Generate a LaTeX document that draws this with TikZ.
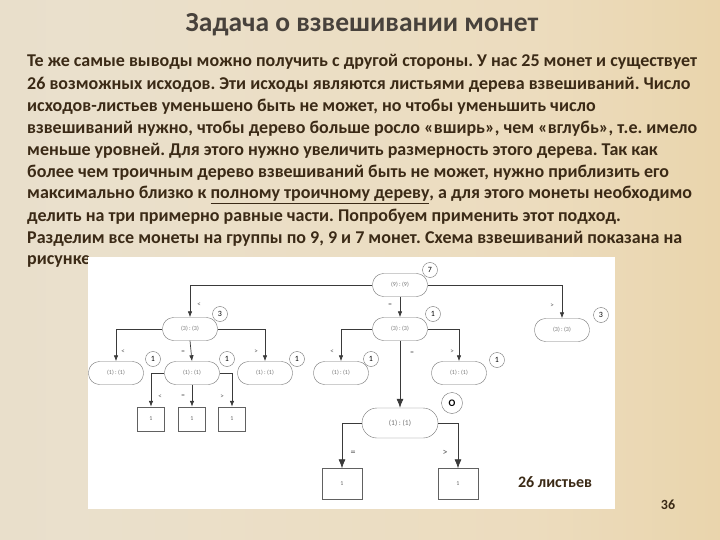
\documentclass[tikz,border=0pt]{standalone}
\usepackage{fontspec}
\setmainfont{Carlito}
\usetikzlibrary{arrows.meta}
\definecolor{ink}{HTML}{3B2A16}
\definecolor{titleink}{HTML}{48423C}
\definecolor{wire}{HTML}{3A3A3A}
\definecolor{paperA}{HTML}{E2D8C6}
\definecolor{paperB}{HTML}{EAE0CC}
\definecolor{paperC}{HTML}{ECDCBE}
\definecolor{paperD}{HTML}{E8D0A0}
\definecolor{paperE}{HTML}{D4A755}
\pgfdeclarehorizontalshading{parchment}{100bp}{%
  color(0bp)=(paperA); color(30bp)=(paperB); color(62bp)=(paperC);
  color(84bp)=(paperD); color(100bp)=(paperE)}
\frenchspacing

\tikzset{
  op/.style={draw=wire!70, rounded corners=11pt, minimum width=55pt, minimum height=23pt,
    inner sep=0pt, text=black!55, font=\fontsize{6}{6}\selectfont},
  cnt/.style={draw=wire!70, circle, minimum size=15pt, inner sep=0pt, font=\fontsize{8}{8}\selectfont},
  leaf/.style={draw=wire!80, minimum width=27pt, minimum height=24pt, inner sep=0pt,
    text=black!60, font=\fontsize{6}{6}\selectfont},
  arr/.style={draw=wire, line width=0.7pt, -{Latex[length=6pt,width=4.5pt]}},
  lab/.style={text=black!65, font=\fontsize{7}{7}\selectfont},
  txtline/.style={anchor=west, inner sep=0pt, text=ink, font=\fontsize{18}{18}\selectfont\bfseries}
}

\begin{document}
\begin{tikzpicture}[x=1pt,y=-1pt]
\useasboundingbox (0,0) rectangle (720,540);
\shade[shading=parchment] (0,0) rectangle (720,540);

% title and text
\node (title) at (362,25) [text=titleink, font=\fontsize{27.5}{27.5}\selectfont\bfseries] {Задача о взвешивании монет};

\node[txtline] (t1) at (27,62) {Те же самые выводы можно получить с другой стороны. У нас 25 монет и существует};
\node[txtline] (t2) at (27,85) {26 возможных исходов. Эти исходы являются листьями дерева взвешиваний. Число};
\node[txtline] (t3) at (27,107) {исходов-листьев уменьшено быть не может, но чтобы уменьшить число};
\node[txtline] (t4) at (27,129) {взвешиваний нужно, чтобы дерево больше росло «вширь», чем «вглубь», т.е. имело};
\node[txtline] (t5) at (27,151) {меньше уровней. Для этого нужно увеличить размерность этого дерева. Так как};
\node[txtline] (t6) at (27,173) {более чем троичным дерево взвешиваний быть не может, нужно приблизить его};
\node[txtline] (t7) at (27,195) {максимально близко к \underline{полному троичному дереву}, а для этого монеты необходимо};
\node[txtline] (t8) at (27,217) {делить на три примерно равные части. Попробуем применить этот подход.};
\node[txtline] (t9) at (27,239) {Разделим все монеты на группы по 9, 9 и 7 монет. Схема взвешиваний показана на};
\node[txtline] (t10) at (27,261) {рисунке.};

% white panel
\fill[white] (88,257) rectangle (615,509);

% weighings
\node[op] (root) at (400,285) {(9) : (9)};
\node[op] (l) at (190,329) {(3) : (3)};
\node[op] (m) at (400,329) {(3) : (3)};
\node[op] (r) at (562,330) {(3) : (3)};

\node[op] (l1) at (116,373) {(1) : (1)};
\node[op] (l2) at (192,373) {(1) : (1)};
\node[op] (l3) at (265,373) {(1) : (1)};
\node[op] (m1) at (341,373) {(1) : (1)};
\node[op] (m3) at (459,373) {(1) : (1)};
\node[op, minimum width=76pt, minimum height=30pt, rounded corners=15pt, font=\fontsize{7.5}{7.5}\selectfont] (m2) at (400,423) {(1) : (1)};

% counters
\node[cnt] (c0) at (430,270) {7};
\node[cnt] (cl) at (220,314) {3};
\node[cnt] (cm) at (433,314) {1};
\node[cnt] (cr) at (601,315) {3};
\node[cnt] (cl1) at (153,359) {1};
\node[cnt] (cl2) at (227,359) {1};
\node[cnt] (cl3) at (297,359) {1};
\node[cnt] (cm1) at (371,359) {1};
\node[cnt] (cm3) at (497,360) {1};
\node[cnt, minimum size=21pt, font=\fontsize{10}{10}\selectfont\bfseries] (cm2) at (452,403) {O};

% leaves
\node[leaf] (a1) at (151,419) {1};
\node[leaf] (a2) at (192,419) {1};
\node[leaf] (a3) at (232,419) {1};
\node[leaf, minimum width=40pt, minimum height=31pt] (b1) at (342,484) {1};
\node[leaf, minimum width=40pt, minimum height=31pt] (b2) at (458,484) {1};

\draw[arr] (root.west) -| (l.north);
\draw[arr] (root.south) -- (m.north);
\draw[arr] (root.east) -| (r.north);
\draw[arr] (l.west) -| (l1.north);
\draw[arr] (l.south) -- (l2.north);
\draw[arr] (l.east) -| (l3.north);
\draw[arr] (l2.west) -| (a1.north);
\draw[arr] (l2.south) -- (a2.north);
\draw[arr] (l2.east) -| (a3.north);
\draw[arr] (m.west) -| (m1.north);
\draw[arr, -{Latex[length=9pt,width=7pt]}] (m.south) -- (m2.north);
\draw[arr] (m.east) -| (m3.north);
\draw[arr, -{Latex[length=9pt,width=7pt]}] (m2.west) -| (b1.north);
\draw[arr, -{Latex[length=9pt,width=7pt]}] (m2.east) -| (b2.north);

% branch labels
\node[lab] (e1) at (199,305) {<};
\node[lab] (e2) at (390,305) {=};
\node[lab] (e3) at (552,306) {>};
\node[lab] (e4) at (123,352) {<};
\node[lab] (e5) at (183,352) {=};
\node[lab] (e6) at (256,352) {>};
\node[lab] (e7) at (160,397) {<};
\node[lab] (e8) at (183,396) {=};
\node[lab] (e9) at (222,397) {>};
\node[lab] (e10) at (332,352) {<};
\node[lab] (e11) at (412,353) {=};
\node[lab] (e12) at (452,352) {>};
\node[lab, font=\fontsize{10}{10}\selectfont] (e13) at (353,453) {=};
\node[lab, font=\fontsize{10}{10}\selectfont] (e14) at (445,453) {>};

\node (note) at (555,482) [text=ink, font=\fontsize{16}{16}\selectfont\bfseries] {26 листьев};
\node (page) at (668,505) [text=ink, font=\fontsize{14}{14}\selectfont\bfseries] {36};
\end{tikzpicture}
\end{document}
